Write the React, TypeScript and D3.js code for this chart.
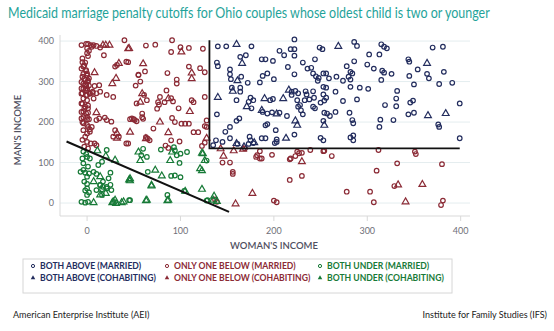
import React from 'react';
import * as d3 from 'd3';

type P = [number, number];

const xTicks = [0, 100, 200, 300, 400];
const yTicks = [0, 100, 200, 300, 400];
const womanCutoff = 131;
const manCutoff = 135;
const cutoffTop = 402;
const cutoffRight = 399;
const diagonal: P[] = [[-22, 152], [152, -22]];

const navyMarried: P[] = [
[140,387],[149,387],[176,387],[222,404],[206,376],[218,380],[222,380],[211,365],[222,364],[249,384],[252,380],[286,398],[289,388],[315,392],[318,386],[321,382],[302,367],[313,367],[370,384],[381,386],[344,355],[345,349],[164,361],[170,365],[139,347],[140,338],[187,355],[191,355],[199,351],[244,355],[231,347],[215,336],[236,332],[240,334],[278,338],[286,350],[300,342],[307,332],[316,327],[318,322],[326,319],[354,330],[364,319],[366,308],[382,324],[153,330],[153,318],[154,306],[165,312],[172,297],[185,298],[188,314],[193,320],[200,306],[222,318],[242,320],[245,313],[253,320],[256,320],[248,309],[247,302],[259,308],[267,312],[274,302],[282,324],[284,320],[280,312],[282,305],[315,304],[345,314],[350,293],[377,294],[391,297],[155,285],[164,285],[164,275],[160,254],[175,260],[178,254],[173,250],[196,254],[199,257],[219,267],[219,275],[223,277],[226,271],[234,276],[235,268],[242,276],[243,260],[238,256],[233,254],[228,242],[225,254],[253,287],[256,285],[253,268],[256,260],[254,253],[250,248],[266,275],[274,252],[282,287],[289,256],[292,285],[301,282],[332,277],[331,258],[346,248],[349,253],[331,239],[319,242],[399,246],[139,219],[176,234],[188,225],[193,221],[198,224],[206,223],[214,215],[226,238],[229,229],[231,219],[242,238],[244,234],[254,223],[257,221],[260,215],[266,225],[281,223],[314,206],[328,205],[344,219],[350,223],[163,209],[160,203],[153,188],[148,176],[191,192],[193,195],[202,180],[253,203],[284,205],[285,197],[313,188],[376,194],[377,188],[138,155],[153,160],[174,164],[175,155],[187,160],[191,160],[203,157],[203,151],[222,169],[250,161],[253,155],[282,162],[285,167],[285,155],[399,160],[135,143],[145,151],[161,146],[173,146],[178,148],[201,148]
];
const navyCohab: P[] = [
[160,392],[269,387],[166,345],[364,345],[161,302],[156,276],[140,261],[190,258],[210,258],[216,279],[171,238],[187,229],[203,220],[365,216],[384,221],[223,203],[225,192],[254,192],[160,147],[168,139],[179,149],[213,160]
];
const redMarried: P[] = [
[-6,390],[-1,393],[1,393],[4,390],[7,390],[10,388],[14,384],[0,382],[2,376],[0,370],[40,402],[18,365],[-5,357],[-2,347],[-4,337],[-1,328],[0,320],[-5,312],[-2,304],[2,308],[-4,295],[-1,291],[1,300],[-6,283],[-2,279],[0,283],[-5,271],[0,267],[3,271],[6,275],[10,271],[8,289],[13,291],[14,275],[7,258],[-4,258],[0,254],[-6,246],[-2,238],[1,234],[-4,226],[-1,221],[0,213],[-6,209],[2,207],[10,205],[13,209],[-4,197],[0,193],[5,188],[-4,180],[0,172],[3,176],[-2,164],[-5,156],[0,151],[4,147],[8,147],[10,143],[-3,139],[1,135],[19,211],[21,205],[26,201],[30,180],[34,164],[28,164],[42,147],[21,267],[28,262],[30,337],[32,341],[42,349],[55,316],[53,246],[48,209],[51,205],
[5,386],[1,363],[-5,348],[-3,340],[-6,332],[-1,326],[-4,319],[0,315],[-3,307],[1,303],[-6,299],[-2,292],[2,290],[-4,282],[0,278],[-6,270],[-1,266],[3,270],[6,272],[-5,245],[1,241],[-3,233],[-6,225],[1,223],[-4,212],[0,207],[-5,200],[1,188],[3,182],
[63,389],[73,391],[91,402],[100,385],[109,383],[124,381],[90,373],[44,348],[62,325],[55,317],[86,321],[109,337],[121,333],[126,323],[96,305],[96,295],[52,290],[57,300],[85,278],[61,267],[64,254],[78,262],[76,249],[77,243],[83,249],[90,259],[92,251],[98,234],[112,254],[114,249],[126,262],[75,233],[59,221],[59,212],[60,208],[46,207],[50,207],[53,202],[91,210],[94,200],[101,196],[105,196],[109,196],[128,204],[126,190],[128,188],[71,184],[114,175],[119,175],[63,163],[65,159],[67,155],[99,152],[90,155],[126,149],[44,147],[84,142],[87,136],[123,141],
[169,135],[145,100],[153,100],[185,128],[185,110],[181,114],[187,110],[198,119],[217,108],[223,116],[227,123],[239,131],[156,77],[156,72],[217,57],[230,67],[200,6],[203,2],[139,3],[137,9],[253,128],[262,116],[351,127],[352,121],[230,124],[332,98],[380,96],[310,80],[278,28],[303,28],[329,42],[307,2],[381,6],[379,-5],[182,118],[218,110],[225,127],[254,129],[312,131]
];
const redCohab: P[] = [
[44,381],[101,373],[60,344],[112,321],[112,307],[59,270],[57,249],[87,258],[110,226],[78,200],[46,175],[87,174],[63,159],[128,160],
[17,390],[20,390],[24,390],[45,382],[34,345],[8,322],[27,295],[31,308],[10,223],[32,172],[32,160],
[143,134],[146,116],[157,129],[167,133],[230,102],[177,24],[159,-2],[333,45],[359,46],[341,3]
];
const greenMarried: P[] = [
[-4,127],[-1,121],[0,114],[-5,110],[3,110],[21,131],[16,102],[12,94],[-4,98],[1,90],[-4,82],[-7,77],[-2,75],[2,73],[7,77],[10,72],[0,65],[-3,53],[0,47],[0,36],[-2,31],[2,26],[0,20],[25,75],[23,61],[17,53],[14,45],[10,32],[16,34],[21,40],[25,45],[26,32],[-6,3],[-2,1],[1,3],[45,7],[14,44],[16,20],[17,40],[21,36],[86,20],[104,30],[128,6],[60,134],[58,118],[64,114],[79,132],[93,138],[94,130],[96,118],[100,122],[107,126],[99,99],[65,77],[90,67],[94,68],[100,64],[46,7],[129,7],[128,105]
];
const greenCohab: P[] = [
[11,129],[20,116],[30,106],[20,24],[14,20],[45,57],[7,1],[28,3],[31,-1],[39,3],[7,53],[14,65],[27,1],[30,7],[37,1],[46,55],[63,6],[69,42],[86,6],[123,34],[136,17],[139,4],[55,126],[57,105],[91,126],[124,122],[126,105],[89,105],[121,85],[73,81],[80,67],[46,60],[69,44],[87,7],[64,7],[105,29],[123,123],[123,80],[135,7]
];

const NAVY = '#232d5e';
const RED = '#8b2a35';
const GREEN = '#177a37';

const legendItems = [
  { label: 'BOTH ABOVE (MARRIED)', color: NAVY, shape: 'circle', col: 0, row: 0 },
  { label: 'BOTH ABOVE (COHABITING)', color: NAVY, shape: 'tri', col: 0, row: 1 },
  { label: 'ONLY ONE BELOW (MARRIED)', color: RED, shape: 'circle', col: 1, row: 0 },
  { label: 'ONLY ONE BELOW (COHABITING)', color: RED, shape: 'tri', col: 1, row: 1 },
  { label: 'BOTH UNDER (MARRIED)', color: GREEN, shape: 'circle', col: 2, row: 0 },
  { label: 'BOTH UNDER (COHABITING)', color: GREEN, shape: 'tri', col: 2, row: 1 },
];

export default function App() {
  const x = d3.scaleLinear().domain([-29, 410]).range([60, 470]);
  const y = d3.scaleLinear().domain([-32, 415]).range([216, 35]);
  const triPath = d3.symbol().type(d3.symbolTriangle).size(20)() as string;
  const triSmall = d3.symbol().type(d3.symbolTriangle).size(9)() as string;
  const line = d3.line<P>().x(d => x(d[0])).y(d => y(d[1]));
  const font = 'Lato, "Open Sans", sans-serif';

  const circles = (data: P[], color: string, key: string) =>
    data.map((d, i) => (
      <circle key={key + i} cx={x(d[0])} cy={y(d[1])} r={2.3} fill="none" stroke={color} strokeWidth={1.2} />
    ));
  const tris = (data: P[], color: string, key: string) =>
    data.map((d, i) => (
      <path key={key + i} d={triPath} transform={`translate(${x(d[0])},${y(d[1])})`} fill="none" stroke={color} strokeWidth={1.2} />
    ));

  const colX = [33, 167, 320];
  const rowY = [269, 281];

  return (
    <svg width={554} height={331} style={{ position: 'absolute', left: 0, top: 0, background: '#fff' }} fontFamily={font}>
      <g transform="translate(8,18) scale(0.86,1)">
        <text x={0} y={0} fill="#1fa39a" fontSize={14.5}>
          Medicaid marriage penalty cutoffs for Ohio couples whose oldest child is two or younger
        </text>
      </g>
      {yTicks.map(t => (
        <line key={'g' + t} x1={60} x2={470} y1={y(t)} y2={y(t)} stroke="#e4edef" strokeWidth={1} />
      ))}
      <line x1={60} x2={60} y1={35} y2={216} stroke="#d9d9d9" />
      <line x1={60} x2={470} y1={216} y2={216} stroke="#d9d9d9" />
      {xTicks.map(t => (
        <g key={'xt' + t}>
          <line x1={x(t)} x2={x(t)} y1={216} y2={221} stroke="#d9d9d9" />
          <text x={x(t)} y={234} textAnchor="middle" fontSize={9} fill="#6f6f78">{t}</text>
        </g>
      ))}
      {yTicks.map(t => (
        <text key={'yt' + t} x={54} y={y(t) + 3} textAnchor="end" fontSize={9} fill="#6f6f78">{t}</text>
      ))}
      <text transform="translate(21,130) rotate(-90)" textAnchor="middle" fontSize={9.5} fontWeight={600} fill="#50505f">MAN'S INCOME</text>
      <text x={274} y={249} textAnchor="middle" fontSize={9.5} fontWeight={600} fill="#50505f">WOMAN'S INCOME</text>

      {circles(redMarried, RED, 'rm')}
      {tris(redCohab, RED, 'rc')}
      {circles(greenMarried, GREEN, 'gm')}
      {tris(greenCohab, GREEN, 'gc')}
      {circles(navyMarried, NAVY, 'nm')}
      {tris(navyCohab, NAVY, 'nc')}

      <path d={line([[womanCutoff, cutoffTop], [womanCutoff, manCutoff], [cutoffRight, manCutoff]]) as string} fill="none" stroke="#111" strokeWidth={1.8} />
      <path d={line(diagonal) as string} fill="none" stroke="#111" strokeWidth={2} />

      <rect x={23} y={259} width={429} height={34} fill="none" stroke="#d6d6d6" strokeWidth={1} />
      {legendItems.map((it, i) => (
        <g key={'lg' + i}>
          {it.shape === 'circle' ? (
            <circle cx={colX[it.col]} cy={rowY[it.row] - 3} r={1.6} fill="none" stroke={it.color} strokeWidth={1} />
          ) : (
            <path d={triSmall} transform={`translate(${colX[it.col]},${rowY[it.row] - 3})`} fill={it.color} />
          )}
          <text x={colX[it.col] + 7} y={rowY[it.row]} fontSize={8.6} fontWeight={700} fill={it.color}>{it.label}</text>
        </g>
      ))}

      <text x={13} y={318} fontSize={9} fill="#222">American Enterprise Institute (AEI)</text>
      <text x={547} y={318} textAnchor="end" fontSize={9} fill="#222">Institute for Family Studies (IFS)</text>
    </svg>
  );
}
